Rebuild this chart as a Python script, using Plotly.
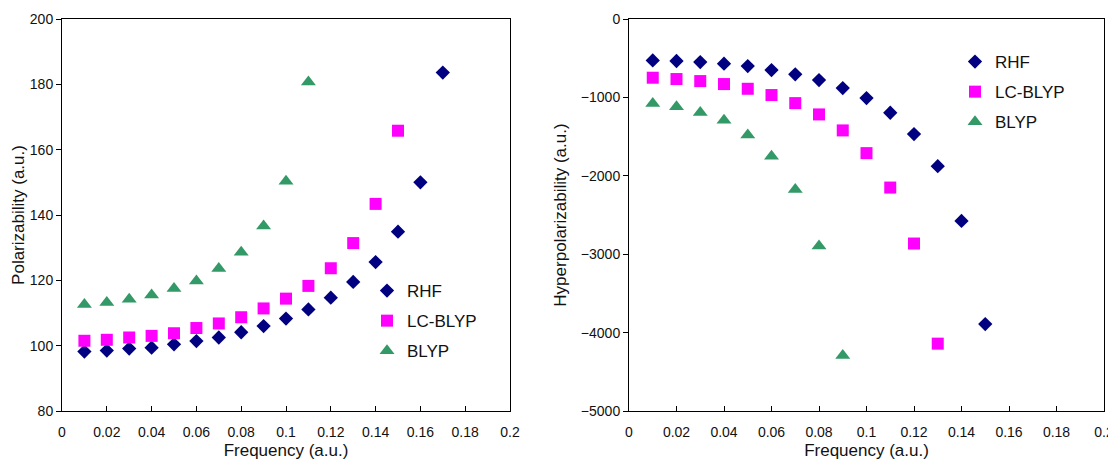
import plotly.graph_objects as go

freq = [0.01, 0.02, 0.03, 0.04, 0.05, 0.06, 0.07, 0.08, 0.09, 0.10,
        0.11, 0.12, 0.13, 0.14, 0.15, 0.16, 0.17]

# Polarizability (left)
pol_rhf = [98.2, 98.5, 99.1, 99.4, 100.4, 101.4, 102.5, 104.1, 106.0, 108.3,
           111.1, 114.7, 119.5, 125.6, 134.9, 150.0, 183.6]
pol_lc = [101.5, 101.8, 102.5, 103.0, 103.8, 105.4, 106.8, 108.7, 111.4, 114.4,
          118.3, 123.7, 131.4, 143.4, 165.8]
pol_blyp = [112.6, 113.2, 114.2, 115.5, 117.5, 119.8, 123.6, 128.6, 136.6, 150.3,
            180.7]

# Hyperpolarizability (right)
hyp_rhf = [-528, -536, -549, -570, -600, -651, -706, -779, -881, -1009,
           -1196, -1468, -1877, -2575, -3891]
hyp_lc = [-749, -766, -792, -830, -890, -970, -1073, -1217, -1421, -1711,
          -2150, -2864, -4141]
hyp_blyp = [-1077, -1120, -1192, -1290, -1481, -1750, -2175, -2895, -4291]

names = ["RHF", "LC-BLYP", "BLYP"]
colors = ["#000080", "#FF00FF", "#339966"]
symbols = ["diamond", "square", "triangle-up"]
sizes = [11, 12, 13]

FONT = "Liberation Sans, Arial, sans-serif"

fig = go.Figure()

for i, (ys, nm) in enumerate(zip([pol_rhf, pol_lc, pol_blyp], names)):
    fig.add_trace(go.Scatter(
        x=freq[:len(ys)], y=ys, mode="markers", name=nm,
        marker=dict(symbol=symbols[i], color=colors[i], size=sizes[i]),
        xaxis="x", yaxis="y", legend="legend", legendgroup="L" + str(i)))

for i, (ys, nm) in enumerate(zip([hyp_rhf, hyp_lc, hyp_blyp], names)):
    fig.add_trace(go.Scatter(
        x=freq[:len(ys)], y=ys, mode="markers", name=nm,
        marker=dict(symbol=symbols[i], color=colors[i], size=sizes[i]),
        xaxis="x2", yaxis="y2", legend="legend2", legendgroup="R" + str(i)))

# page body has an 8px margin, so the figure is drawn 8px in from the corner
OFF = 8
W, H = 1116 - OFF, 463 - OFF

def px(x):
    return (x - OFF) / W

def xaxis(domain):
    return dict(domain=domain, range=[0, 0.2], dtick=0.02, tick0=0,
                showline=True, linecolor="black", linewidth=1, mirror=True,
                ticks="inside", ticklen=5, tickcolor="black",
                showgrid=False, zeroline=False, ticklabelstandoff=8,
                automargin=False,
                tickfont=dict(size=14, color="#111"),
                title=dict(text="Frequency (a.u.)", standoff=5,
                           font=dict(size=17, color="#111")))

def yaxis(rng, dtick, title, anchor, standoff):
    return dict(domain=[0, 1], range=rng, dtick=dtick, anchor=anchor,
                showline=True, linecolor="black", linewidth=1, mirror=True,
                ticks="outside", ticklen=5, tickcolor="black",
                showgrid=False, zeroline=False, automargin=False,
                tickfont=dict(size=14, color="#111"),
                title=dict(text=title, standoff=standoff,
                           font=dict(size=17, color="#111")))

legend_common = dict(font=dict(size=17, color="#111", family=FONT),
                     bgcolor="rgba(0,0,0,0)", tracegroupgap=5,
                     xanchor="left", yanchor="middle")

fig.update_layout(
    width=W, height=H, autosize=False,
    margin=dict(l=0, r=0, t=19 - OFF, b=52),
    paper_bgcolor="white", plot_bgcolor="white",
    font=dict(family=FONT, color="#111"),
    xaxis=dict(**xaxis([px(62), px(510)]), anchor="y"),
    yaxis=yaxis([80, 200], 20, "Polarizability (a.u.)", "x", 0),
    xaxis2=dict(**xaxis([px(629), px(1104)]), anchor="y2"),
    yaxis2=yaxis([-5000, 0], 1000, "Hyperpolarizability (a.u.)", "x2", 9),
    legend=dict(**legend_common, x=359 / W, y=1 - (321 - 19) / 392),
    legend2=dict(**legend_common, x=947 / W, y=1 - (92 - 19) / 392),
)

fig.write_html("out.html")
